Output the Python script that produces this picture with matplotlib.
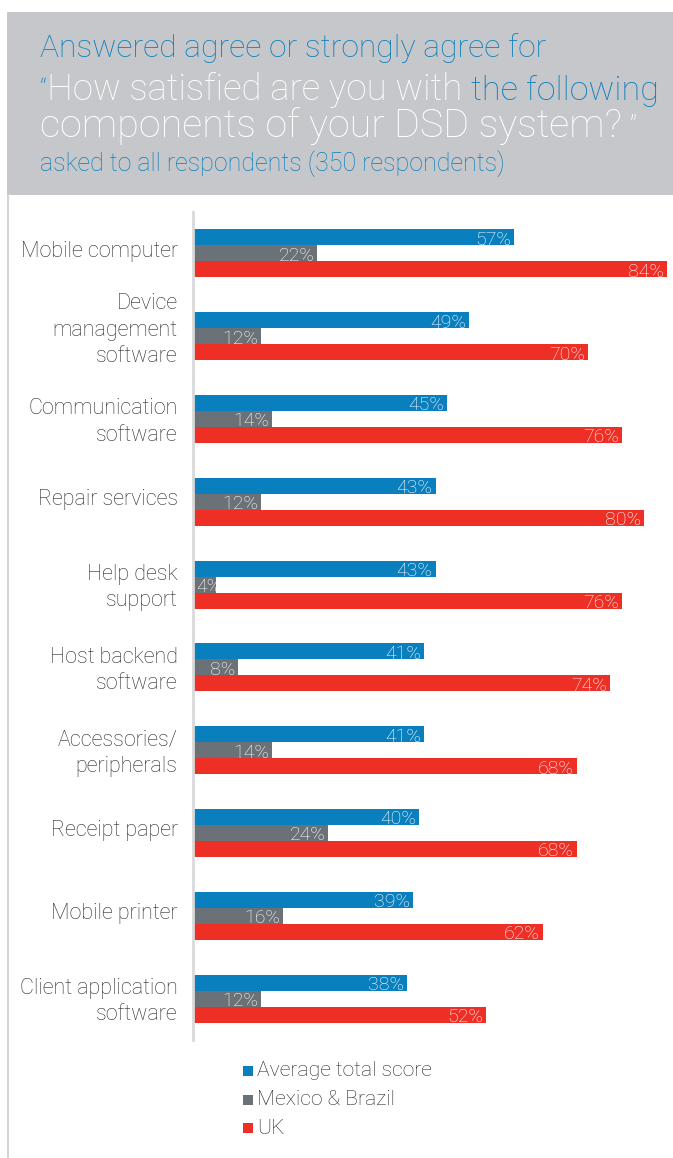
import matplotlib
matplotlib.use("Agg")
import matplotlib.pyplot as plt
from matplotlib.patches import Rectangle
from matplotlib.transforms import ScaledTranslation
import numpy as np

# ---- data ----
categories = [
    "Mobile computer",
    "Device\nmanagement\nsoftware",
    "Communication\nsoftware",
    "Repair services",
    "Help desk\nsupport",
    "Host backend\nsoftware",
    "Accessories/\nperipherals",
    "Receipt paper",
    "Mobile printer",
    "Client application\nsoftware",
]
average_total = [57, 49, 45, 43, 43, 41, 41, 40, 39, 38]
mexico_brazil = [22, 12, 14, 12, 4, 8, 14, 24, 16, 12]
uk = [84, 70, 76, 80, 76, 74, 68, 68, 62, 52]
series_names = ["Average total score", "Mexico & Brazil", "UK"]

BLUE = "#0a7fbd"
GREY = "#6b7277"
RED = "#ee2f25"
HEADER_BG = "#c6c7cb"
TEXT_DARK = "#2a2a2a"
FONT = "Roboto"
WEIGHT = "light"

W, H = 673, 1158
fig = plt.figure(figsize=(W / 100, H / 100), dpi=100)
fig.patch.set_facecolor("white")


def fx(px):
    return px / W


def fy(py):
    return 1 - py / H


# header panel and left rule
fig.patches.append(Rectangle((fx(7), fy(195)), fx(673 - 7), 183 / H,
                             transform=fig.transFigure, facecolor=HEADER_BG,
                             edgecolor="none", zorder=0))
fig.lines.append(plt.Line2D([fx(7.5), fx(7.5)], [fy(195), 0], transform=fig.transFigure,
                            color="#d4d4d4", lw=1.5))

renderer = fig.canvas.get_renderer()


def segments(x_px, y_px, parts, width_px):
    """Draw consecutive text pieces on one baseline, scaled to span width_px."""
    texts = []
    total = 0
    for txt, color, rel in parts:
        t = fig.text(0, 0, txt, color=color, fontsize=20 * rel, family=FONT,
                     fontweight=WEIGHT, va="baseline", ha="left")
        texts.append((t, rel))
        total += t.get_window_extent(renderer=renderer).width
    scale = width_px / total
    x = x_px
    for t, rel in texts:
        t.set_fontsize(20 * rel * scale)
        t.set_position((fx(x), fy(y_px)))
        x += t.get_window_extent(renderer=renderer).width


segments(40, 57, [("Answered agree or strongly agree for", BLUE, 1.0)], 508)
segments(40, 100, [("\u201c", BLUE, 0.8), ("How satisfied are you with ", "white", 1.0),
                   ("the following", BLUE, 0.93)], 620)
segments(40, 137, [("components of your DSD system?", "white", 1.0),
                   (" \u201d", "white", 0.8)], 597)
segments(40, 171, [("asked to all respondents (350 respondents)", BLUE, 1.0)], 465)

# ---- bar chart ----
px_per_unit = 82.8
ax_top, ax_bot = 212, 1040
ax_left = 193
xmax = 85
ax_w = xmax * 5.64
ax = fig.add_axes([fx(ax_left), fy(ax_bot), fx(ax_w), (ax_bot - ax_top) / H])
ax.set_facecolor("none")

y = np.arange(len(categories))
bh = 16 / px_per_unit
series = [average_total, mexico_brazil, uk]
colors = [BLUE, GREY, RED]
offsets = [-bh, 0, bh]

for vals, col, off in zip(series, colors, offsets):
    bars = ax.barh(y + off, vals, height=bh, color=col, edgecolor="none")
    for rect, v in zip(bars, vals):
        cy = rect.get_y() + rect.get_height() / 2 + 0.03
        if v >= 7:
            t = ax.text(v - 0.5, cy, f"{v}%", ha="right", va="center", color="white",
                        fontsize=14, family=FONT, fontweight=WEIGHT)
        else:
            # too narrow for the full label: start it at the bar base, cut at the bar end
            t = ax.text(0.5, cy, f"{v}%", ha="left", va="center", color="white",
                        fontsize=14, family=FONT, fontweight=WEIGHT)
        t.set_clip_on(True)
        t.set_clip_path(rect)

ax.set_xlim(0, xmax)
ax.set_ylim(9.5, -0.5)
for s in ["top", "right", "bottom"]:
    ax.spines[s].set_visible(False)
ax.spines["left"].set_color("#d9d9d9")
ax.spines["left"].set_linewidth(2)
ax.set_xticks([])
ax.set_yticks(y)
ax.set_yticklabels(categories, fontsize=15.5, family=FONT, fontweight=WEIGHT,
                   color=TEXT_DARK, linespacing=1.34)
ax.tick_params(axis="y", length=0, pad=11)

# nudge category labels upward (more for taller multi-line labels)
shift_pts = {1: 3.5, 2: 1.5, 3: 8.0}
for lab, name in zip(ax.get_yticklabels(), categories):
    n = name.count("\n") + 1
    lab.set_transform(lab.get_transform() +
                      ScaledTranslation(0, shift_pts[n] / 72, fig.dpi_scale_trans))

# ---- legend ----
for i, (name, col) in enumerate(zip(series_names, colors)):
    yy = 1071 + i * 28.5
    fig.patches.append(Rectangle((fx(243), fy(yy + 5)), fx(10), 10 / H,
                                 transform=fig.transFigure, facecolor=col,
                                 edgecolor="none"))
    fig.text(fx(257), fy(yy), name, fontsize=15.2, family=FONT, fontweight=WEIGHT,
             color=TEXT_DARK, va="center", ha="left")

fig.savefig("out.png", dpi=100)
